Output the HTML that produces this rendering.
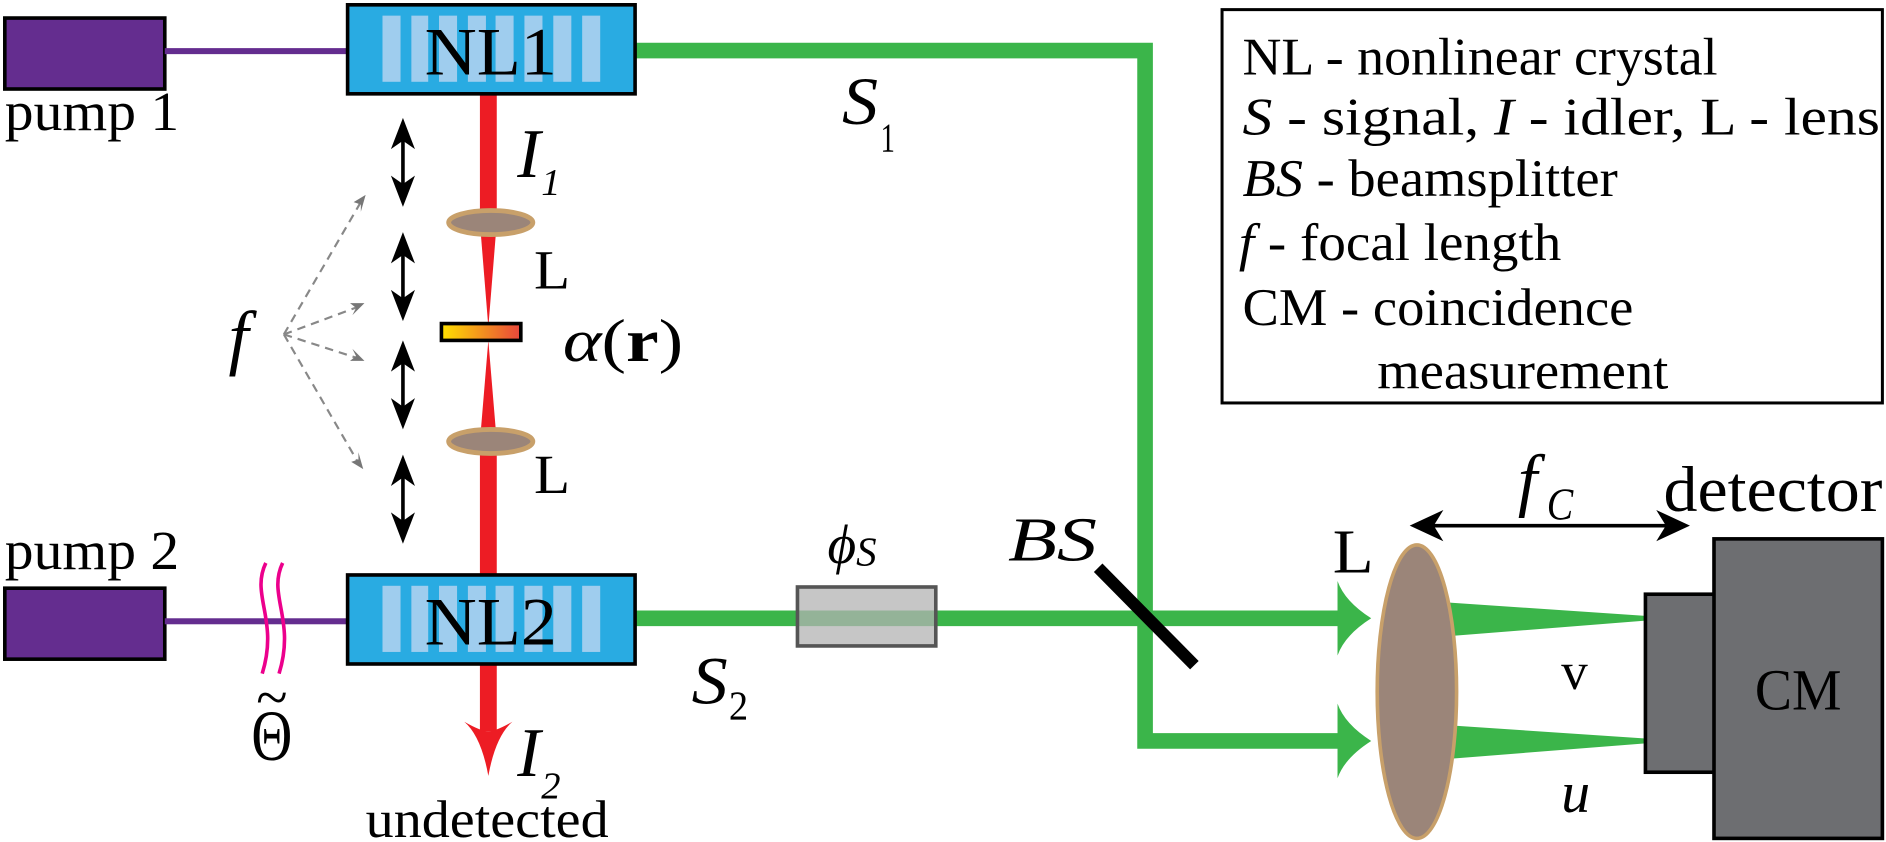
<!DOCTYPE html>
<html><head><meta charset="utf-8"><style>
html,body{margin:0;padding:0;background:#fff;overflow:hidden}
svg{display:block}
svg text{font-family:"Liberation Serif","Times New Roman",Times,serif;fill:#000}
</style></head><body>
<svg width="1886" height="842" viewBox="0 0 1568 700" preserveAspectRatio="none" xmlns="http://www.w3.org/2000/svg" font-family="Liberation Serif, Times New Roman, serif">
<defs>
<linearGradient id="ag" x1="0" x2="1"><stop offset="0" stop-color="#ffe100"/><stop offset="1" stop-color="#e8453c"/></linearGradient>
<g id="stripes" fill="#9fcdee">
<rect x="318" y="13" width="15" height="55"/><rect x="342" y="13" width="14" height="55"/><rect x="365" y="13" width="15" height="55"/><rect x="389" y="13" width="15" height="55"/><rect x="412" y="13" width="15" height="55"/><rect x="436" y="13" width="15" height="55"/><rect x="460" y="13" width="15" height="55"/><rect x="484" y="13" width="15" height="55"/>
</g>
</defs>
<rect width="1568" height="700" fill="#fff"/>

<!-- legend -->
<rect x="1016" y="8" width="549" height="327" fill="#fff" stroke="#000" stroke-width="2.5"/>
<g font-size="44">
<text x="1033" y="62" textLength="395" lengthAdjust="spacingAndGlyphs">NL - nonlinear crystal</text>
<text x="1033" y="112" textLength="530" lengthAdjust="spacingAndGlyphs"><tspan font-style="italic">S</tspan> - signal,   <tspan font-style="italic">I</tspan> - idler,   L - lens</text>
<text x="1033" y="163" textLength="312" lengthAdjust="spacingAndGlyphs"><tspan font-style="italic">BS</tspan> - beamsplitter</text>
<text x="1030" y="216" textLength="268" lengthAdjust="spacingAndGlyphs"><tspan font-style="italic">f</tspan> - focal length</text>
<text x="1033" y="270" textLength="325" lengthAdjust="spacingAndGlyphs">CM - coincidence</text>
<text x="1145" y="323" textLength="242" lengthAdjust="spacingAndGlyphs">measurement</text>
</g>

<!-- pumps -->
<rect x="4" y="15" width="133" height="59" fill="#642d8f" stroke="#000" stroke-width="3"/>
<rect x="137" y="40" width="153" height="5" fill="#642d8f"/>
<text x="4" y="108" font-size="46" textLength="145" lengthAdjust="spacingAndGlyphs">pump 1</text>
<rect x="4" y="489" width="133" height="59" fill="#642d8f" stroke="#000" stroke-width="3"/>
<rect x="137" y="514" width="153" height="5" fill="#642d8f"/>
<text x="4" y="473" font-size="46" textLength="145" lengthAdjust="spacingAndGlyphs">pump 2</text>
<path d="M221,468 C208,495 232,515 218,560 M235,468 C222,495 246,515 232,560" fill="none" stroke="#ec008c" stroke-width="3"/>
<text x="226" y="632" font-size="60" text-anchor="middle" textLength="34" lengthAdjust="spacingAndGlyphs">Θ</text>
<text x="226" y="596" font-size="48" text-anchor="middle">~</text>

<!-- green signal paths -->
<path d="M528,42 H952 V616 H1115" fill="none" stroke="#3bb54a" stroke-width="13"/>
<path d="M528,514 H1115" fill="none" stroke="#3bb54a" stroke-width="13"/>
<path d="M1140,514 Q1118,500 1112,483 L1112,545 Q1118,528 1140,514Z" fill="#3bb54a"/>
<path d="M1140,616 Q1118,602 1112,585 L1112,647 Q1118,630 1140,616Z" fill="#3bb54a"/>
<path d="M1190,500 L1368,512 L1368,516 L1190,530Z" fill="#3bb54a"/>
<path d="M1190,602 L1368,614 L1368,618 L1190,632Z" fill="#3bb54a"/>
<rect x="663" y="488" width="115" height="49" fill="#b3b3b3" fill-opacity="0.75" stroke="#555" stroke-width="3"/>
<text x="688" y="468" font-size="46" font-style="italic">ϕ<tspan font-size="34" dy="2">S</tspan></text>
<line x1="913" y1="472" x2="993" y2="553" stroke="#000" stroke-width="10"/>
<text x="838" y="466" font-size="52" font-style="italic" textLength="74" lengthAdjust="spacingAndGlyphs">BS</text>
<text x="700" y="103" font-size="56" font-style="italic" textLength="30" lengthAdjust="spacingAndGlyphs">S</text><text x="732" y="126" font-size="34" textLength="12" lengthAdjust="spacingAndGlyphs">1</text>
<text x="575" y="585" font-size="56" font-style="italic" textLength="30" lengthAdjust="spacingAndGlyphs">S</text><text x="606" y="598" font-size="34" textLength="16" lengthAdjust="spacingAndGlyphs">2</text>

<!-- red idler -->
<rect x="399" y="78" width="14" height="107" fill="#ed1c24"/>
<path d="M399,185 L413,185 L406,272Z" fill="#ed1c24"/>
<path d="M406,283 L413,367 L399,367Z" fill="#ed1c24"/>
<rect x="399" y="367" width="14" height="112" fill="#ed1c24"/>
<rect x="399" y="553" width="14" height="55" fill="#ed1c24"/>
<path d="M386,600 Q400,612 406,645 Q412,612 426,600 Q412,608 406,608 Q400,608 386,600Z" fill="#ed1c24"/>
<ellipse cx="408" cy="185" rx="35" ry="10" fill="#9b8579" stroke="#c8a06a" stroke-width="4"/>
<ellipse cx="408" cy="367" rx="35" ry="10" fill="#9b8579" stroke="#c8a06a" stroke-width="4"/>
<rect x="367" y="269" width="66" height="14" fill="url(#ag)" stroke="#000" stroke-width="3"/>
<text x="430" y="147" font-size="58" font-style="italic">I</text><text x="450" y="162" font-size="32" font-style="italic">1</text>
<text x="444" y="240" font-size="46" textLength="30" lengthAdjust="spacingAndGlyphs">L</text>
<text x="444" y="410" font-size="46" textLength="30" lengthAdjust="spacingAndGlyphs">L</text>
<text x="468" y="300" font-size="50" textLength="100" lengthAdjust="spacingAndGlyphs"><tspan font-style="italic">α</tspan>(<tspan font-weight="bold">r</tspan>)</text>
<text x="430" y="645" font-size="58" font-style="italic">I</text><text x="450" y="664" font-size="32" font-style="italic">2</text>
<text x="405" y="696" font-size="44" text-anchor="middle" textLength="202" lengthAdjust="spacingAndGlyphs">undetected</text>

<!-- crystals -->
<rect x="289" y="4" width="239" height="74" fill="#29abe2" stroke="#000" stroke-width="3"/>
<use href="#stripes"/>
<text x="408" y="62" font-size="56" text-anchor="middle" textLength="110" lengthAdjust="spacingAndGlyphs">NL1</text>
<rect x="289" y="478" width="239" height="74" fill="#29abe2" stroke="#000" stroke-width="3"/>
<use href="#stripes" transform="translate(0,474)"/>
<text x="408" y="536" font-size="56" text-anchor="middle" textLength="110" lengthAdjust="spacingAndGlyphs">NL2</text>

<!-- f arrows -->
<g stroke="#000" stroke-width="3">
<line x1="335" y1="110" x2="335" y2="160"/><line x1="335" y1="205" x2="335" y2="255"/><line x1="335" y1="295" x2="335" y2="345"/><line x1="335" y1="390" x2="335" y2="440"/>
</g>
<g fill="#000">
<path d="M335,98 l-10,26 l10,-7 l10,7z"/><path d="M335,172 l-10,-26 l10,7 l10,-7z"/>
<path d="M335,193 l-10,26 l10,-7 l10,7z"/><path d="M335,267 l-10,-26 l10,7 l10,-7z"/>
<path d="M335,283 l-10,26 l10,-7 l10,7z"/><path d="M335,357 l-10,-26 l10,7 l10,-7z"/>
<path d="M335,378 l-10,26 l10,-7 l10,7z"/><path d="M335,452 l-10,-26 l10,7 l10,-7z"/>
</g>
<g stroke="#888" stroke-width="1.8" stroke-dasharray="7,5" fill="none">
<line x1="236" y1="278" x2="300" y2="168"/><line x1="236" y1="278" x2="298" y2="255"/><line x1="236" y1="278" x2="298" y2="298"/><line x1="236" y1="278" x2="298" y2="385"/>
</g>
<g fill="#777">
<path d="M304,162 l-10,6 l6,2 l0,6z"/><path d="M303,252 l-12,0 l5,4 l-3,6z"/><path d="M303,300 l-12,0 l5,-4 l-3,-6z"/><path d="M302,390 l-10,-6 l6,-2 l0,-6z"/>
</g>
<text x="190" y="300" font-size="60" font-style="italic">f</text>

<!-- detector side -->
<ellipse cx="1178" cy="575" rx="33" ry="122" fill="#9b8579" stroke="#c8a06a" stroke-width="3"/>
<text x="1108" y="476" font-size="52" textLength="34" lengthAdjust="spacingAndGlyphs">L</text>
<line x1="1185" y1="437" x2="1392" y2="437" stroke="#000" stroke-width="3"/>
<path d="M1172,437 l28,-13 l-8,13 l8,13z"/><path d="M1405,437 l-28,-13 l8,13 l-8,13z"/>
<text x="1262" y="418" font-size="58" font-style="italic">f</text><text x="1286" y="432" font-size="38" font-style="italic" textLength="22" lengthAdjust="spacingAndGlyphs">C</text>
<text x="1383" y="425" font-size="54" textLength="182" lengthAdjust="spacingAndGlyphs">detector</text>
<rect x="1368" y="494" width="58" height="148" fill="#6d6e71" stroke="#000" stroke-width="3"/>
<rect x="1425" y="448" width="140" height="249" fill="#6d6e71" stroke="#000" stroke-width="3"/>
<text x="1495" y="590" font-size="48" text-anchor="middle" textLength="72" lengthAdjust="spacingAndGlyphs">CM</text>
<text x="1298" y="573" font-size="44" textLength="22" lengthAdjust="spacingAndGlyphs">v</text>
<text x="1298" y="675" font-size="48" font-style="italic" textLength="24" lengthAdjust="spacingAndGlyphs">u</text>
</svg>
</body></html>
